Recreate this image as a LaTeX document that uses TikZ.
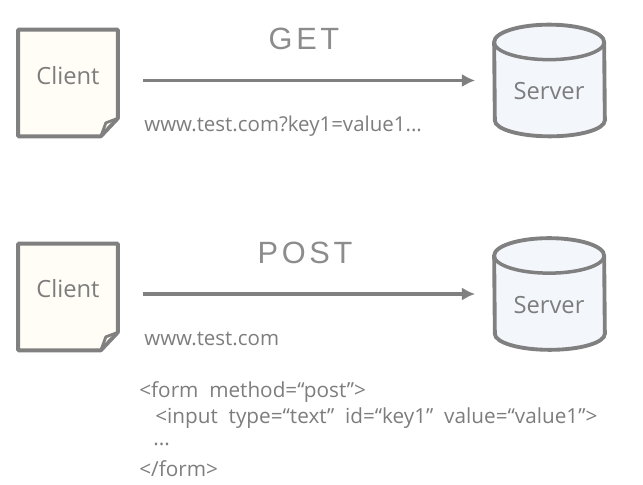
\documentclass[tikz,border=0pt]{standalone}
\usepackage{fontspec}
\setmainfont{Open Sans}
\newfontfamily\titlefont[LetterSpace=12]{Liberation Sans}
\usetikzlibrary{arrows.meta}

\definecolor{linegray}{RGB}{128,128,128}
\definecolor{textgray}{RGB}{125,125,125}
\definecolor{titlegray}{RGB}{140,140,140}
\definecolor{clientfill}{RGB}{255,253,245}
\definecolor{serverfill}{RGB}{243,246,251}

\tikzset{
  client/.style={minimum width=1.98cm, minimum height=2.12cm, inner sep=0pt},
  server/.style={minimum width=2.2cm, minimum height=2.22cm, inner sep=0pt},
  sheet/.style={draw=linegray, line width=2.2pt, line join=round, fill=clientfill},
  fold/.style={draw=linegray, line width=1.6pt, line join=round},
  drum/.style={draw=linegray, line width=2.2pt, fill=serverfill},
  rim/.style={draw=linegray, line width=2pt},
  label/.style={text=textgray, inner sep=0pt, font=\fontsize{13.5}{16}\selectfont},
  title/.style={text=titlegray, inner sep=0pt, font=\titlefont\fontsize{17.5}{22}\selectfont},
  url/.style={text=textgray, inner sep=0pt, anchor=west, font=\fontsize{11.65}{14}\selectfont},
  code/.style={text=textgray, inner sep=0pt, anchor=west, font=\fontsize{11.8}{14}\selectfont},
  flow/.style={draw=linegray, line width=2pt, -{Latex[length=7.5pt,width=7.5pt]}, shorten <=0.51cm, shorten >=0.38cm},
}

\begin{document}
\begin{tikzpicture}
\useasboundingbox (0,0) rectangle (12.86,9.7);

% Capa GET
\node[client] (C1) at (1.36,8.04) {};
\draw[sheet] (C1.north west) -- (C1.north east) -- ([yshift=0.36cm]C1.south east) -- ([xshift=-0.34cm]C1.south east) -- (C1.south west) -- cycle;
\draw[fold] ([yshift=0.36cm]C1.south east) -- ([xshift=-0.24cm,yshift=0.27cm]C1.south east) -- ([xshift=-0.34cm]C1.south east);
\node[label] (L1) at (1.36,8.19) {Client};
\node[server] (S1) at (10.99,8.09) {};
\draw[drum] ([yshift=-0.35cm]S1.north west) arc[start angle=180, end angle=0, x radius=1.1, y radius=0.35] -- ([yshift=0.32cm]S1.south east) arc[start angle=0, end angle=-180, x radius=1.1, y radius=0.32] -- cycle;
\draw[rim] ([yshift=-0.35cm]S1.north west) arc[start angle=180, end angle=360, x radius=1.1, y radius=0.35];
\node[label] (M1) at (10.98,7.87) {Server};
\node[title] (T1) at (6.08,8.93) {GET};
\node[url] (U1) at (2.88,7.18) {www.test.com?key1=value1...};
\draw[flow] (C1.east |- S1.west) -- (S1.west);

% Capa POST
\node[client] (C2) at (1.36,3.76) {};
\draw[sheet] (C2.north west) -- (C2.north east) -- ([yshift=0.36cm]C2.south east) -- ([xshift=-0.34cm]C2.south east) -- (C2.south west) -- cycle;
\draw[fold] ([yshift=0.36cm]C2.south east) -- ([xshift=-0.24cm,yshift=0.27cm]C2.south east) -- ([xshift=-0.34cm]C2.south east);
\node[label] (L2) at (1.36,3.92) {Client};
\node[server] (S2) at (10.99,3.82) {};
\draw[drum] ([yshift=-0.35cm]S2.north west) arc[start angle=180, end angle=0, x radius=1.1, y radius=0.35] -- ([yshift=0.32cm]S2.south east) arc[start angle=0, end angle=-180, x radius=1.1, y radius=0.32] -- cycle;
\draw[rim] ([yshift=-0.35cm]S2.north west) arc[start angle=180, end angle=360, x radius=1.1, y radius=0.35];
\node[label] (M2) at (10.98,3.6) {Server};
\node[title] (T2) at (6.1,4.65) {POST};
\node[url] (U2) at (2.88,2.92) {www.test.com};
\draw[flow] (C2.east |- S2.west) -- (S2.west);

% Formulario
\node[code] (F1) at (2.78,1.85) {<form\ \ method=“post”>};
\node[code] (F2) at (3.1,1.33) {<input\ \ type=“text”\ \ id=“key1”\ \ value=“value1”>};
\node[code] (F3) at (3.06,0.81) {...};
\node[code] (F4) at (2.78,0.32) {</form>};

\end{tikzpicture}
\end{document}
